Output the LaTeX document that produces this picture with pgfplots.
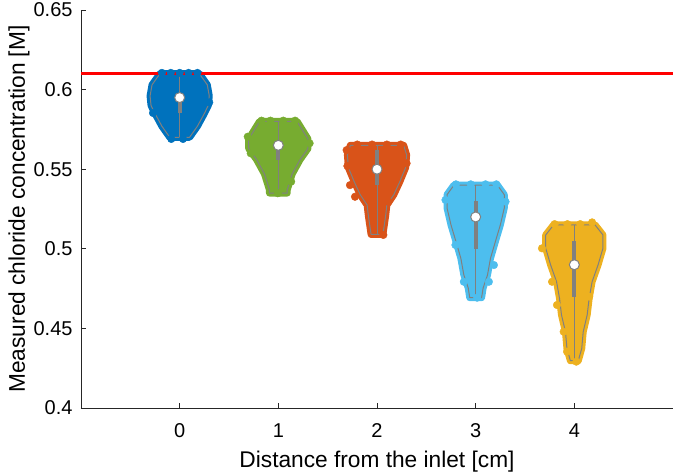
\documentclass[border=0pt]{standalone}
\usepackage{fontspec}
\setmainfont{Liberation Sans}
\usepackage{pgfplots}
\pgfplotsset{compat=1.18}
\definecolor{c0}{HTML}{0072BD}
\definecolor{c1}{HTML}{77AC30}
\definecolor{c2}{HTML}{D95319}
\definecolor{c3}{HTML}{4DBEEE}
\definecolor{c4}{HTML}{EDB120}
\definecolor{vgray}{HTML}{808080}
\definecolor{axgray}{HTML}{262626}
\pgfplotsset{
  vfill/.style={fill=#1, draw=#1, line width=7pt, line join=round},
  vedge/.style={draw=vgray, line width=1pt, line join=round},
  vdots/.style={only marks, mark=*, mark size=3.8pt, color=#1, mark options={fill=#1, draw=#1, line width=0.4pt}},
}
\begin{document}
\begin{tikzpicture}
\begin{axis}[
  scale only axis, width=592pt, height=398pt,
  xmin=-1, xmax=5, ymin=0.4, ymax=0.65,
  axis x line*=bottom, axis y line*=left,
  axis line style={axgray, line width=0.8pt, -},
  xtick={0,1,2,3,4}, xticklabels={0,1,2,3,4},
  ytick={0.4,0.45,0.5,0.55,0.6,0.65},
  yticklabels={0.4,0.45,0.5,0.55,0.6,0.65},
  tick align=inside, major tick length=5.5pt,
  tick style={axgray, line width=0.8pt},
  xticklabel style={font=\fontsize{20}{24}\selectfont, anchor=north, inner sep=0pt, yshift=-15.5pt},
  yticklabel style={font=\fontsize{20}{24}\selectfont, anchor=east, inner sep=0pt, xshift=-8.3pt},
  every axis x label/.style={at={(axis description cs:0.5,0)}, anchor=base, inner sep=0pt, yshift=-59pt, font=\fontsize{22.7}{27}\selectfont},
  every axis y label/.style={at={(axis description cs:0,0.5)}, xshift=-56pt, rotate=90, anchor=base, inner sep=0pt, font=\fontsize{22.7}{27}\selectfont},
  xlabel={Distance from the inlet [cm]},
  ylabel={Measured chloride concentration [M]},
]
% violin 0
\addplot[vfill=c0] coordinates {(0.20,0.610) (0.28,0.603) (0.30,0.596) (0.29,0.590) (0.25,0.585) (0.18,0.577) (0.10,0.570) (-0.10,0.570) (-0.18,0.577) (-0.25,0.585) (-0.29,0.590) (-0.30,0.596) (-0.28,0.603) (-0.20,0.610)} -- cycle;
\addplot[vdots=c0] coordinates {(-0.27,0.5853) (-0.085,0.569) (0.034,0.569) (-0.18,0.6105) (-0.09,0.6105) (0.0,0.6105) (0.09,0.6105) (0.18,0.6105) (0.30,0.592)};
\addplot[vedge] coordinates {(0.20,0.610) (0.28,0.603) (0.30,0.596) (0.29,0.590) (0.25,0.585) (0.18,0.577) (0.10,0.570) (-0.10,0.570) (-0.18,0.577) (-0.25,0.585) (-0.29,0.590) (-0.30,0.596) (-0.28,0.603) (-0.20,0.610)} -- cycle;
% violin 1
\addplot[vfill=c1] coordinates {(1.19,0.580) (1.30,0.569) (1.30,0.563) (1.22,0.556) (1.14,0.547) (1.09,0.537) (1.09,0.535) (0.91,0.535) (0.91,0.537) (0.86,0.547) (0.78,0.556) (0.70,0.563) (0.70,0.569) (0.81,0.580)} -- cycle;
\addplot[vdots=c1] coordinates {(0.690,0.5704) (1.317,0.5663) (0.995,0.5349) (1.13,0.5422) (0.72,0.560) (0.83,0.5805) (0.92,0.5805) (1.05,0.5805) (1.17,0.5805)};
\addplot[vedge] coordinates {(1.19,0.580) (1.30,0.569) (1.30,0.563) (1.22,0.556) (1.14,0.547) (1.09,0.537) (1.09,0.535) (0.91,0.535) (0.91,0.537) (0.86,0.547) (0.78,0.556) (0.70,0.563) (0.70,0.569) (0.81,0.580)} -- cycle;
% violin 2
\addplot[vfill=c2] coordinates {(2.27,0.565) (2.30,0.559) (2.29,0.551) (2.23,0.542) (2.17,0.534) (2.10,0.5275) (2.088,0.521) (2.06,0.509) (1.94,0.509) (1.912,0.521) (1.90,0.5275) (1.83,0.534) (1.77,0.542) (1.71,0.551) (1.70,0.559) (1.73,0.565)} -- cycle;
\addplot[vdots=c2] coordinates {(1.692,0.562) (1.726,0.540) (1.777,0.5327) (2.30,0.5537) (2.115,0.5296) (2.064,0.5087) (1.80,0.5655) (1.95,0.5655) (2.10,0.5655) (2.24,0.5655) (1.70,0.552)};
\addplot[vedge] coordinates {(2.27,0.565) (2.30,0.559) (2.29,0.551) (2.23,0.542) (2.17,0.534) (2.10,0.5275) (2.088,0.521) (2.06,0.509) (1.94,0.509) (1.912,0.521) (1.90,0.5275) (1.83,0.534) (1.77,0.542) (1.71,0.551) (1.70,0.559) (1.73,0.565)} -- cycle;
% violin 3
\addplot[vfill=c3] coordinates {(3.22,0.540) (3.29,0.534) (3.29,0.5256) (3.25,0.515) (3.20,0.5046) (3.15,0.494) (3.12,0.4836) (3.076,0.4755) (3.06,0.4693) (2.94,0.4693) (2.924,0.4755) (2.88,0.4836) (2.85,0.494) (2.80,0.5046) (2.75,0.515) (2.71,0.5256) (2.71,0.534) (2.78,0.540)} -- cycle;
\addplot[vdots=c3] coordinates {(2.694,0.5307) (3.303,0.5296) (2.795,0.5024) (3.185,0.4898) (3.134,0.4793) (2.88,0.4793) (3.015,0.4693) (2.80,0.5405) (2.95,0.5405) (3.10,0.5405) (3.21,0.5405)};
\addplot[vedge] coordinates {(3.22,0.540) (3.29,0.534) (3.29,0.5256) (3.25,0.515) (3.20,0.5046) (3.15,0.494) (3.12,0.4836) (3.076,0.4755) (3.06,0.4693) (2.94,0.4693) (2.924,0.4755) (2.88,0.4836) (2.85,0.494) (2.80,0.5046) (2.75,0.515) (2.71,0.5256) (2.71,0.534) (2.78,0.540)} -- cycle;
% violin 4
\addplot[vfill=c4] coordinates {(4.21,0.515) (4.29,0.5087) (4.29,0.5003) (4.24,0.4898) (4.18,0.4793) (4.15,0.4688) (4.13,0.4584) (4.09,0.4479) (4.075,0.4374) (4.04,0.4297) (3.96,0.4297) (3.925,0.4374) (3.91,0.4479) (3.87,0.4584) (3.85,0.4688) (3.82,0.4793) (3.76,0.4898) (3.71,0.5003) (3.71,0.5087) (3.79,0.515)} -- cycle;
\addplot[vdots=c4] coordinates {(3.672,0.5003) (4.180,0.5166) (3.774,0.4793) (3.824,0.4647) (3.892,0.4479) (3.926,0.4354) (4.02,0.4291) (3.80,0.5155) (3.93,0.5155) (4.06,0.5155) (4.15,0.4700)};
\addplot[vedge] coordinates {(4.21,0.515) (4.29,0.5087) (4.29,0.5003) (4.24,0.4898) (4.18,0.4793) (4.15,0.4688) (4.13,0.4584) (4.09,0.4479) (4.075,0.4374) (4.04,0.4297) (3.96,0.4297) (3.925,0.4374) (3.91,0.4479) (3.87,0.4584) (3.85,0.4688) (3.82,0.4793) (3.76,0.4898) (3.71,0.5003) (3.71,0.5087) (3.79,0.515)} -- cycle;
% whiskers
\addplot[vgray, line width=1pt] coordinates {(0,0.570) (0,0.610)};
\addplot[vgray, line width=1pt] coordinates {(1,0.535) (1,0.580)};
\addplot[vgray, line width=1pt] coordinates {(2,0.509) (2,0.565)};
\addplot[vgray, line width=1pt] coordinates {(3,0.4693) (3,0.540)};
\addplot[vgray, line width=1pt] coordinates {(4,0.4297) (4,0.515)};
% boxes
\addplot[vgray, line width=4pt] coordinates {(0,0.585) (0,0.5965)};
\addplot[vgray, line width=4pt] coordinates {(1,0.556) (1,0.566)};
\addplot[vgray, line width=4pt] coordinates {(2,0.540) (2,0.562)};
\addplot[vgray, line width=4pt] coordinates {(3,0.500) (3,0.530)};
\addplot[vgray, line width=4pt] coordinates {(4,0.470) (4,0.505)};
% medians
\addplot[only marks, mark=*, mark size=5pt, mark options={fill=white, draw=vgray, line width=1pt}] coordinates {(0,0.595) (1,0.565) (2,0.550) (3,0.520) (4,0.490)};
% reference line
\addplot[red, line width=3pt] coordinates {(-1,0.61) (5,0.61)};
\end{axis}
\pgfresetboundingbox
\path ([xshift=-81pt,yshift=-66pt]current axis.south west) rectangle ([yshift=10pt]current axis.north east);
\end{tikzpicture}
\end{document}
